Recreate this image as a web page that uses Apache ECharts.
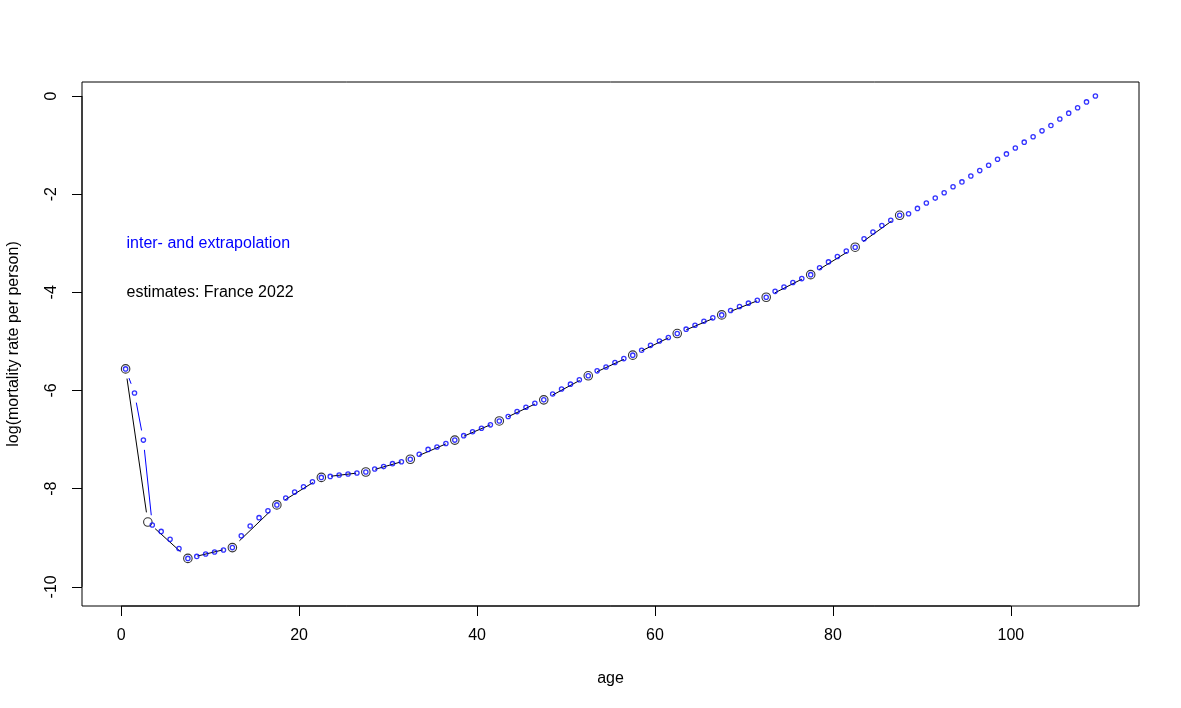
<!DOCTYPE html>
<html><head><meta charset="utf-8">
<script src="https://cdn.jsdelivr.net/npm/echarts@6/dist/echarts.min.js"></script>
<style>html,body{margin:0;padding:0;background:#fff}#c{width:1181px;height:708px}</style>
</head><body><div id="c"></div>
<script>
// Estimates (France 2022), abridged age groups
const estAges = [0.5, 3, 7.5, 12.5, 17.5, 22.5, 27.5, 32.5, 37.5, 42.5, 47.5, 52.5, 57.5, 62.5, 67.5, 72.5, 77.5, 82.5, 87.5];
const estLogRates = [-5.56, -8.68, -9.42, -9.20, -8.33, -7.77, -7.66, -7.40, -7.01, -6.62, -6.19, -5.70, -5.28, -4.84, -4.46, -4.10, -3.64, -3.08, -2.43];

// Inter- and extrapolation, single years
const fitAges = [0.5, 1.5, 2.5, 3.5, 4.5, 5.5, 6.5, 7.5, 8.5, 9.5,
  10.5, 11.5, 12.5, 13.5, 14.5, 15.5, 16.5, 17.5, 18.5, 19.5,
  20.5, 21.5, 22.5, 23.5, 24.5, 25.5, 26.5, 27.5, 28.5, 29.5,
  30.5, 31.5, 32.5, 33.5, 34.5, 35.5, 36.5, 37.5, 38.5, 39.5,
  40.5, 41.5, 42.5, 43.5, 44.5, 45.5, 46.5, 47.5, 48.5, 49.5,
  50.5, 51.5, 52.5, 53.5, 54.5, 55.5, 56.5, 57.5, 58.5, 59.5,
  60.5, 61.5, 62.5, 63.5, 64.5, 65.5, 66.5, 67.5, 68.5, 69.5,
  70.5, 71.5, 72.5, 73.5, 74.5, 75.5, 76.5, 77.5, 78.5, 79.5,
  80.5, 81.5, 82.5, 83.5, 84.5, 85.5, 86.5, 87.5, 88.5, 89.5,
  90.5, 91.5, 92.5, 93.5, 94.5, 95.5, 96.5, 97.5, 98.5, 99.5,
  100.5, 101.5, 102.5, 103.5, 104.5, 105.5, 106.5, 107.5, 108.5, 109.5];
const fitLogRates = [-5.56, -6.05, -7.01, -8.74, -8.87, -9.03, -9.22, -9.42, -9.38, -9.33,
  -9.29, -9.25, -9.20, -8.96, -8.76, -8.59, -8.45, -8.33, -8.19, -8.07,
  -7.96, -7.86, -7.77, -7.75, -7.72, -7.70, -7.68, -7.66, -7.60, -7.55,
  -7.49, -7.45, -7.40, -7.30, -7.20, -7.15, -7.08, -7.01, -6.92, -6.84,
  -6.77, -6.70, -6.62, -6.53, -6.43, -6.34, -6.26, -6.19, -6.07, -5.97,
  -5.87, -5.78, -5.70, -5.60, -5.52, -5.43, -5.35, -5.28, -5.18, -5.08,
  -4.99, -4.92, -4.84, -4.75, -4.67, -4.59, -4.52, -4.46, -4.37, -4.29,
  -4.22, -4.16, -4.10, -3.98, -3.89, -3.80, -3.72, -3.64, -3.50, -3.38,
  -3.27, -3.16, -3.08, -2.91, -2.77, -2.64, -2.53, -2.43, -2.40, -2.29,
  -2.18, -2.08, -1.97, -1.85, -1.75, -1.63, -1.52, -1.41, -1.29, -1.18,
  -1.06, -0.94, -0.83, -0.71, -0.60, -0.47, -0.35, -0.24, -0.12, 0.00];

const xTicks = [0, 20, 40, 60, 80, 100];
const yTicks = [-10, -8, -6, -4, -2, 0];
const labelFit = 'inter- and extrapolation';
const labelEst = 'estimates: France 2022';
const xTitle = 'age';
const yTitle = 'log(mortality rate per person)';

const FONT = "'Liberation Sans', Arial, Helvetica, sans-serif";
const BLUE = '#0000FF';
const GAP = 9.8;
const X_MIN = -4.4, X_MAX = 114.4, Y_MIN = -10.39, Y_MAX = 0.285;

function pairs(xs, ys) {
  const out = [];
  for (let i = 0; i < xs.length - 1; i++) out.push([xs[i], ys[i], xs[i + 1], ys[i + 1]]);
  return out;
}
function gapLines(color) {
  return function (params, api) {
    const p0 = api.coord([api.value(0), api.value(1)]);
    const p1 = api.coord([api.value(2), api.value(3)]);
    const dx = p1[0] - p0[0], dy = p1[1] - p0[1];
    const d = Math.hypot(dx, dy);
    if (d <= 2 * GAP) return { type: 'group', children: [] };
    const ux = dx / d, uy = dy / d;
    return {
      type: 'line',
      shape: { x1: p0[0] + ux * GAP, y1: p0[1] + uy * GAP, x2: p1[0] - ux * GAP, y2: p1[1] - uy * GAP },
      style: { stroke: color, lineWidth: 1 }
    };
  };
}

const chart = echarts.init(document.getElementById('c'), null, { renderer: 'canvas' });
const option = {
  animation: false,
  backgroundColor: '#fff',
  grid: { left: 82, top: 82, width: 1057, height: 524, show: true, borderColor: '#000', borderWidth: 1,
          backgroundColor: 'transparent', containLabel: false, outerBoundsMode: 'none' },
  xAxis: {
    type: 'value', min: X_MIN, max: X_MAX, position: 'bottom',
    name: xTitle, nameLocation: 'middle', nameGap: 65,
    nameTextStyle: { fontFamily: FONT, fontSize: 16, color: '#000' },
    axisLine: { show: false, onZero: false },
    axisTick: { show: true, length: 10, customValues: xTicks, lineStyle: { color: '#000', width: 1 } },
    axisLabel: { customValues: xTicks, margin: 22, fontFamily: FONT, fontSize: 16, color: '#000' },
    splitLine: { show: false }
  },
  yAxis: {
    type: 'value', min: Y_MIN, max: Y_MAX, position: 'left',
    name: yTitle, nameLocation: 'middle', nameGap: 60, nameRotate: 90,
    nameTextStyle: { fontFamily: FONT, fontSize: 16, color: '#000' },
    axisLine: { show: false, onZero: false },
    axisTick: { show: true, length: 10, customValues: yTicks, lineStyle: { color: '#000', width: 1 } },
    axisLabel: { customValues: yTicks, margin: 22, rotate: 90, fontFamily: FONT, fontSize: 16, color: '#000' },
    splitLine: { show: false }
  },
  series: [
    {
      type: 'custom', name: 'estLines', renderItem: gapLines('#000'),
      data: pairs(estAges, estLogRates), encode: { x: [0, 2], y: [1, 3] }, z: 2, silent: true
    },
    {
      type: 'scatter', name: 'estimates', data: estAges.map((a, i) => [a, estLogRates[i]]),
      symbol: 'circle', symbolSize: 8.5,
      itemStyle: { color: 'rgba(0,0,0,0)', borderColor: '#000', borderWidth: 1.1 }, z: 3, silent: true
    },
    {
      type: 'custom', name: 'fitLines', renderItem: gapLines(BLUE),
      data: pairs(fitAges, fitLogRates), encode: { x: [0, 2], y: [1, 3] }, z: 4, silent: true
    },
    {
      type: 'scatter', name: 'fit', data: fitAges.map((a, i) => [a, fitLogRates[i]]),
      symbol: 'circle', symbolSize: 4.3,
      itemStyle: { color: 'rgba(0,0,0,0)', borderColor: BLUE, borderWidth: 1.3 }, z: 5, silent: true
    }
  ]
};
chart.setOption(option);

// R-style axis lines spanning first to last tick, and text annotations
const px = (x, y) => chart.convertToPixel({ gridIndex: 0 }, [x, y]);
const xa = px(xTicks[0], Y_MIN), xb = px(xTicks[xTicks.length - 1], Y_MIN);
const ya = px(X_MIN, yTicks[0]), yb = px(X_MIN, yTicks[yTicks.length - 1]);
const t1 = px(0.6, -3), t2 = px(0.6, -4);
chart.setOption({
  graphic: [
    { type: 'line', shape: { x1: xa[0], y1: xa[1], x2: xb[0], y2: xb[1] }, style: { stroke: '#000', lineWidth: 1 }, z: 10 },
    { type: 'line', shape: { x1: ya[0], y1: ya[1], x2: yb[0], y2: yb[1] }, style: { stroke: '#000', lineWidth: 1 }, z: 10 },
    { type: 'text', x: t1[0], y: t1[1], style: { text: labelFit, fill: BLUE, font: '16px ' + FONT, textAlign: 'left', textVerticalAlign: 'middle' }, z: 10 },
    { type: 'text', x: t2[0], y: t2[1], style: { text: labelEst, fill: '#000', font: '16px ' + FONT, textAlign: 'left', textVerticalAlign: 'middle' }, z: 10 }
  ]
});
</script></body></html>
